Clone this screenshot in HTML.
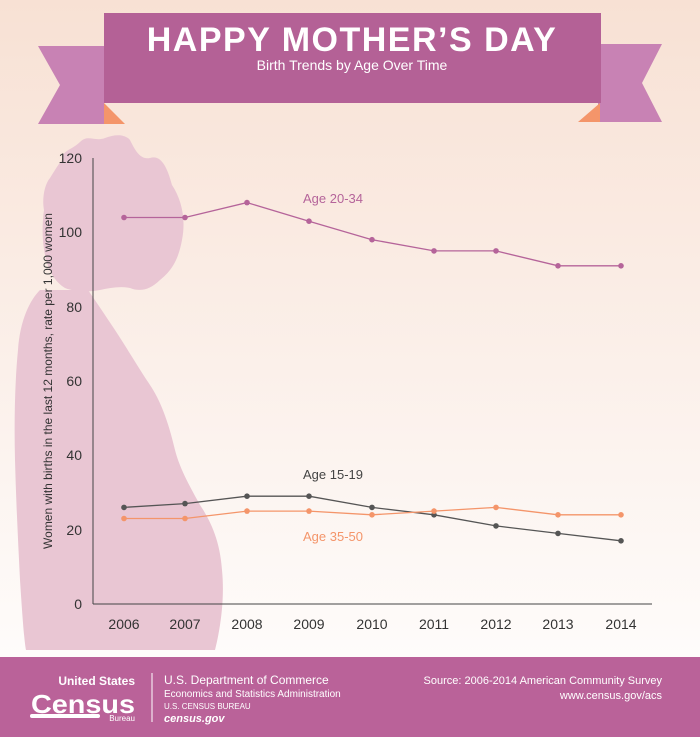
<!DOCTYPE html>
<html><head><meta charset="utf-8"><style>
body{margin:0;width:700px;height:737px;overflow:hidden;font-family:"Liberation Sans",sans-serif;}
</style></head><body>
<svg width="700" height="737" viewBox="0 0 700 737" xmlns="http://www.w3.org/2000/svg">
<defs><linearGradient id="bg" x1="0" y1="0" x2="0" y2="1">
<stop offset="0" stop-color="#f8e1d4"/><stop offset="0.5" stop-color="#fbf0ea"/><stop offset="1" stop-color="#ffffff"/></linearGradient></defs>
<rect width="700" height="737" fill="url(#bg)"/>
<!-- silhouette -->
<path fill="#e9c6d3" d="M62,160 C62,150 72,150 80,142 C88,134 95,142 105,138 C115,134 125,134 130,140 C135,150 140,160 150,158 C162,154 168,170 172,185 C182,200 186,220 182,240 C178,262 170,272 160,280 C150,290 140,292 130,288 C120,286 110,288 100,290 C90,292 75,292 65,288 C55,282 48,270 45,255 C42,240 42,225 44,210 C42,200 44,185 50,178 C55,170 58,165 62,160 Z"/>
<path fill="#e9c6d3" d="M40,290 C30,300 20,320 18,350 C15,380 14,420 15,460 C16,500 18,540 20,580 C22,610 24,640 26,650 L215,650 C220,630 225,600 222,570 C220,540 210,520 200,505 C192,490 180,470 175,450 C168,420 160,400 150,385 C140,370 128,350 115,330 C105,315 95,300 88,290 Z"/>
<!-- ribbon -->
<polygon points="38,46 104,46 104,124 38,124 60,85" fill="#c882b4"/>
<polygon points="662,44 598,44 598,122 662,122 642,83" fill="#c882b4"/>
<polygon points="104,103 125,124 104,124" fill="#f4956a"/>
<polygon points="600,103 578,122 600,122" fill="#f4956a"/>
<rect x="104" y="13" width="497" height="90" fill="#b46196"/>
<text x="352" y="51" text-anchor="middle" font-size="34" font-weight="bold" fill="#fff" letter-spacing="1.5">HAPPY MOTHER’S DAY</text>
<text x="352" y="70" text-anchor="middle" font-size="14" fill="#fff">Birth Trends by Age Over Time</text>
<!-- axes -->
<line x1="93" y1="158" x2="93" y2="604" stroke="#444" stroke-width="1"/>
<line x1="93" y1="604" x2="652" y2="604" stroke="#444" stroke-width="1"/>
<g font-size="14" fill="#333" text-anchor="end">
<text x="82" y="163">120</text><text x="82" y="237">100</text><text x="82" y="312">80</text>
<text x="82" y="386">60</text><text x="82" y="460">40</text><text x="82" y="535">20</text><text x="82" y="609">0</text>
</g>
<g font-size="14" fill="#333" text-anchor="middle">
<text x="124" y="629">2006</text><text x="185" y="629">2007</text><text x="247" y="629">2008</text>
<text x="309" y="629">2009</text><text x="372" y="629">2010</text><text x="434" y="629">2011</text>
<text x="496" y="629">2012</text><text x="558" y="629">2013</text><text x="621" y="629">2014</text>
</g>
<text transform="translate(52,381) rotate(-90)" text-anchor="middle" font-size="12" fill="#333">Women with births in the last 12 months, rate per 1,000 women</text>
<polyline fill="none" stroke="#b5649a" stroke-width="1.3" points="124,217.5 185,217.5 247,202.6 309,221.2 372,239.7 434,250.9 496,250.9 558,265.8 621,265.8"/>
<g fill="#b5649a"><circle cx="124" cy="217.5" r="2.8"/><circle cx="185" cy="217.5" r="2.8"/><circle cx="247" cy="202.6" r="2.8"/><circle cx="309" cy="221.2" r="2.8"/><circle cx="372" cy="239.7" r="2.8"/><circle cx="434" cy="250.9" r="2.8"/><circle cx="496" cy="250.9" r="2.8"/><circle cx="558" cy="265.8" r="2.8"/><circle cx="621" cy="265.8" r="2.8"/></g>
<polyline fill="none" stroke="#555" stroke-width="1.3" points="124,507.4 185,503.6 247,496.2 309,496.2 372,507.4 434,514.8 496,525.9 558,533.4 621,540.8"/>
<g fill="#555"><circle cx="124" cy="507.4" r="2.8"/><circle cx="185" cy="503.6" r="2.8"/><circle cx="247" cy="496.2" r="2.8"/><circle cx="309" cy="496.2" r="2.8"/><circle cx="372" cy="507.4" r="2.8"/><circle cx="434" cy="514.8" r="2.8"/><circle cx="496" cy="525.9" r="2.8"/><circle cx="558" cy="533.4" r="2.8"/><circle cx="621" cy="540.8" r="2.8"/></g>
<polyline fill="none" stroke="#f4956a" stroke-width="1.3" points="124,518.5 185,518.5 247,511.1 309,511.1 372,514.8 434,511.1 496,507.4 558,514.8 621,514.8"/>
<g fill="#f4956a"><circle cx="124" cy="518.5" r="2.8"/><circle cx="185" cy="518.5" r="2.8"/><circle cx="247" cy="511.1" r="2.8"/><circle cx="309" cy="511.1" r="2.8"/><circle cx="372" cy="514.8" r="2.8"/><circle cx="434" cy="511.1" r="2.8"/><circle cx="496" cy="507.4" r="2.8"/><circle cx="558" cy="514.8" r="2.8"/><circle cx="621" cy="514.8" r="2.8"/></g>
<text x="303" y="203" font-size="13" fill="#b5649a">Age 20-34</text>
<text x="303" y="479" font-size="13" fill="#444">Age 15-19</text>
<text x="303" y="541" font-size="13" fill="#f4956a">Age 35-50</text>
<!-- footer -->
<rect x="0" y="657" width="700" height="80" fill="#ba6299"/>
<text x="135" y="685" text-anchor="end" font-size="12" font-weight="bold" fill="#fff">United States</text>
<text x="135" y="713" text-anchor="end" font-size="26" font-weight="bold" fill="#fff" textLength="104" lengthAdjust="spacingAndGlyphs">Census</text>
<rect x="30" y="714" width="70" height="4" fill="#fff" rx="2"/>
<text x="135" y="721" text-anchor="end" font-size="8" fill="#fff">Bureau</text>
<line x1="152" y1="673" x2="152" y2="722" stroke="#fff" stroke-width="1"/>
<text x="164" y="684" font-size="12" fill="#fff">U.S. Department of Commerce</text>
<text x="164" y="697" font-size="10" fill="#fff">Economics and Statistics Administration</text>
<text x="164" y="709" font-size="8" fill="#fff">U.S. CENSUS BUREAU</text>
<text x="164" y="722" font-size="11" font-weight="bold" font-style="italic" fill="#fff">census.gov</text>
<text x="662" y="684" text-anchor="end" font-size="11" fill="#fff">Source: 2006-2014 American Community Survey</text>
<text x="662" y="699" text-anchor="end" font-size="11" fill="#fff">www.census.gov/acs</text>
</svg>
</body></html>
